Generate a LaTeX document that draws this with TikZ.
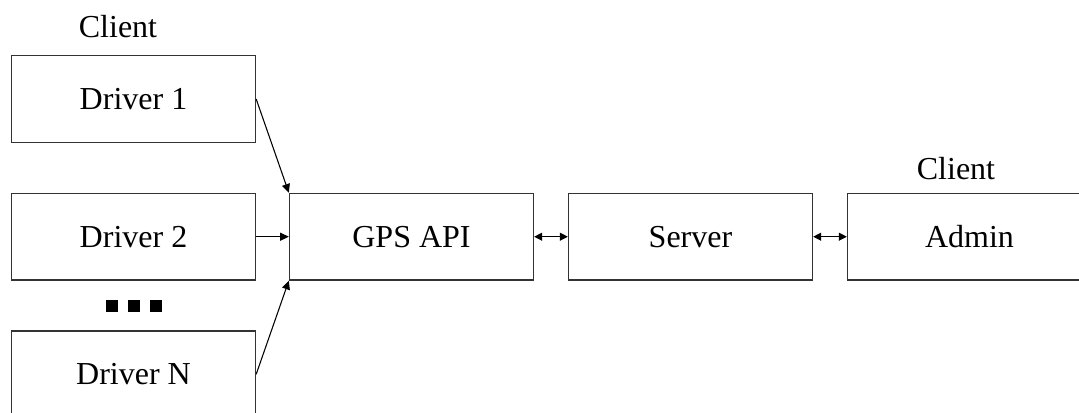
\documentclass[tikz,border=0pt]{standalone}
\usepackage{fontspec}
\setmainfont{Liberation Serif}
\usetikzlibrary{arrows.meta}
\begin{document}
\begin{tikzpicture}[x=0.75pt, y=-0.75pt,
    box/.style={draw=black!80, line width=1pt, minimum width=183pt, minimum height=65pt, inner sep=0pt, font=\fontsize{24}{28}\selectfont},
    lbl/.style={anchor=base, inner sep=0pt, font=\fontsize{24}{28}\selectfont},
    link/.style={-{Triangle[length=6.5pt,width=6pt]}, line width=0.8pt},
    both/.style={{Triangle[length=6pt,width=6pt]}-{Triangle[length=6pt,width=6pt]}, line width=0.8pt}]
      \useasboundingbox (0,0) rectangle (1079,412);
      \clip (0,0) rectangle (1079,412);
      % Drivers
      \node[box] (d1) at (133.5,99) {Driver 1};
      \node[box] (d2) at (133.5,236.7) {Driver 2};
      \node[box] (dn) at (133.5,374.3) {Driver N};
      \foreach \i in {111.5,133.5,155.5}
        \fill (\i-6,300) rectangle (\i+6,312);
      % Chain
      \node[box] (gps) at (411.5,236.7) {GPS API};
      \node[box] (srv) at (690.5,236.7) {Server};
      \node[box] (adm) at (969.5,236.7) {Admin};
      \node[lbl] (cl1) at (118,37.3) {Client};
      \node[lbl] (cl2) at (956,179.3) {Client};
      \draw[link] (d1.east) -- (gps.north west);
      \draw[link] (d2.east) -- (gps.west);
      \draw[link] (dn.east) -- (gps.south west);
      \draw[both] (gps) -- (srv);
      \draw[both] (srv) -- (adm);
    \end{tikzpicture}
\end{document}
